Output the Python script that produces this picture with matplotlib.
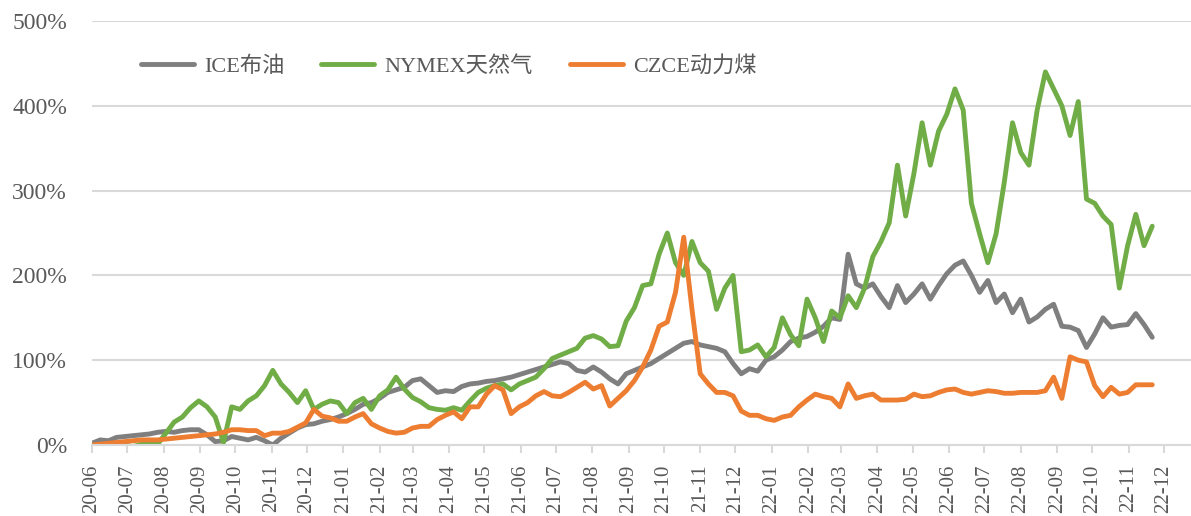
import matplotlib
matplotlib.use("Agg")
import matplotlib.pyplot as plt
import matplotlib.dates as mdates
from matplotlib.ticker import FuncFormatter, MultipleLocator
import pandas as pd

plt.rcParams['font.family'] = ['Liberation Serif', 'Noto Sans CJK SC', 'DejaVu Sans']

# weekly closes, cumulative change in % since 2020-06-01
start_date = '2020-06-01'
n_weeks = 130

ice_brent = [
    2, 6, 5, 9, 10, 11, 12, 13, 15, 16,
    15, 17, 18, 18, 12, 4, 5, 10, 8, 6,
    9, 5, 0, 8, 14, 20, 24, 25, 28, 30,
    33, 37, 42, 48, 50, 55, 62, 65, 68, 76,
    78, 70, 62, 64, 63, 69, 72, 73, 75, 76,
    78, 80, 83, 86, 89, 92, 95, 98, 96, 88,
    86, 92, 86, 78, 72, 84, 88, 92, 96, 102,
    108, 114, 120, 122, 118, 116, 114, 110, 96, 84,
    90, 87, 100, 104, 112, 122, 126, 128, 133, 140,
    150, 148, 225, 190, 185, 190, 175, 162, 188, 168,
    178, 190, 172, 188, 202, 212, 217, 200, 180, 194,
    168, 178, 156, 172, 145, 151, 160, 166, 140, 139,
    135, 115, 131, 150, 139, 141, 142, 155, 142, 127,
]

nymex_gas = [
    0, -1, 0, 1, 0, -2, 1, 2, 1, 14,
    27, 33, 44, 52, 45, 33, 3, 45, 42, 52,
    58, 70, 88, 72, 62, 50, 64, 42, 48, 52,
    50, 37, 50, 55, 42, 58, 65, 80, 66, 56,
    51, 44, 42, 41, 44, 41, 52, 62, 67, 70,
    72, 65, 72, 76, 80, 90, 102, 106, 110, 114,
    126, 129, 125, 116, 117, 146, 162, 188, 190, 225,
    250, 215, 200, 240, 215, 205, 160, 185, 200, 110,
    112, 118, 104, 115, 150, 130, 117, 172, 150, 122,
    158, 150, 176, 162, 185, 222, 240, 262, 330, 270,
    320, 380, 330, 370, 390, 420, 395, 285, 249, 215,
    249, 310, 380, 345, 330, 395, 440, 420, 400, 365,
    405, 290, 285, 270, 260, 185, 235, 272, 235, 258,
]

czce_coal = [
    0, 1, 2, 3, 4, 5, 6, 6, 6, 7,
    8, 9, 10, 11, 12, 13, 15, 18, 18, 17,
    17, 11, 14, 14, 16, 21, 26, 42, 34, 32,
    28, 28, 33, 37, 25, 20, 16, 14, 15, 20,
    22, 22, 30, 35, 39, 31, 45, 45, 60, 70,
    65, 37, 45, 50, 58, 63, 58, 57, 62, 68,
    74, 66, 70, 46, 55, 64, 76, 92, 112, 140,
    145, 180, 245, 160, 84, 72, 62, 62, 58, 40,
    35, 35, 31, 29, 33, 35, 45, 53, 60, 57,
    55, 45, 72, 55, 58, 60, 53, 53, 53, 54,
    60, 57, 58, 62, 65, 66, 62, 60, 62, 64,
    63, 61, 61, 62, 62, 62, 64, 80, 55, 104,
    100, 98, 70, 57, 68, 60, 62, 71, 71, 71,
]

labels = ['ICE布油', 'NYMEX天然气', 'CZCE动力煤']
colors = ['#7F7F7F', '#70AD47', '#ED7D31']

dates = pd.date_range(start_date, periods=n_weeks, freq='7D')

fig = plt.figure(figsize=(11.91, 5.16), dpi=100)
ax = fig.add_axes([0.0772, 0.1376, 0.9228, 0.8217])

for series, label, color in zip([ice_brent, nymex_gas, czce_coal], labels, colors):
    ax.plot(dates, series, color=color, lw=3.5, label=label,
            solid_joinstyle='round', solid_capstyle='round')

ax.set_ylim(0, 500)
ax.set_xlim(pd.Timestamp('2020-06-01'), pd.Timestamp('2022-12-24'))
ax.yaxis.set_major_locator(MultipleLocator(100))
ax.yaxis.set_major_formatter(FuncFormatter(lambda v, p: f'{v:.0f}%'))
ax.xaxis.set_major_locator(mdates.MonthLocator())
ax.xaxis.set_major_formatter(mdates.DateFormatter('%y-%m'))

ax.grid(axis='y', color='#D9D9D9', lw=1.5)
ax.set_axisbelow(True)
for side in ['top', 'right', 'left']:
    ax.spines[side].set_visible(False)
ax.spines['bottom'].set_color('#D9D9D9')
ax.spines['bottom'].set_linewidth(1.5)

ax.tick_params(axis='y', length=0, pad=18, labelsize=17, labelcolor='#595959')
ax.tick_params(axis='x', length=6, width=1.5, color='#D9D9D9', pad=8,
               labelsize=15, labelcolor='#595959', labelrotation=90)

leg = ax.legend(loc='upper left', bbox_to_anchor=(0.026, 0.965), ncol=3, frameon=False,
                fontsize=16, handlelength=2.4, handletextpad=0.45, columnspacing=1.66)
for t in leg.get_texts():
    t.set_color('#595959')

fig.savefig('out.png', dpi=100)
